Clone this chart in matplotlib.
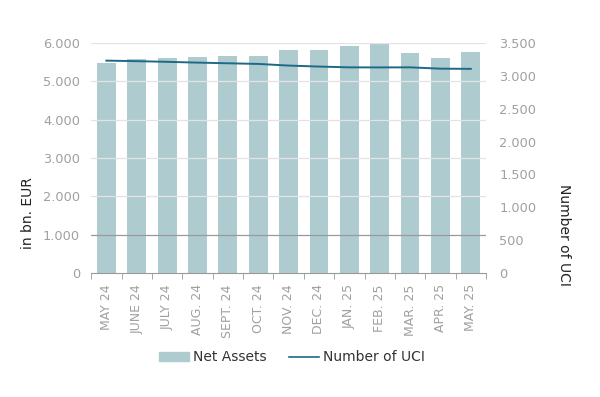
import matplotlib
matplotlib.use("Agg")
import matplotlib.pyplot as plt
from matplotlib.ticker import FuncFormatter
from matplotlib.patches import Patch
from matplotlib.lines import Line2D

months = ["MAY 24", "JUNE 24", "JULY 24", "AUG. 24", "SEPT. 24", "OCT. 24", "NOV. 24",
          "DEC. 24", "JAN. 25", "FEB. 25", "MAR. 25", "APR. 25", "MAY. 25"]
net_assets = [5470, 5570, 5610, 5635, 5645, 5670, 5826, 5818, 5922, 5966, 5740, 5617, 5757]
num_uci = [3230, 3222, 3212, 3200, 3190, 3180, 3155, 3140, 3128, 3127, 3128, 3108, 3105]

bar_color = "#aecbd0"
line_color = "#1d6a86"
tick_color = "#a0a0a0"

fig = plt.figure(figsize=(6, 3.97), dpi=100)
ax = fig.add_axes([0.152, 0.312, 0.658, 0.580])
ax2 = ax.twinx()

n = len(months)
x = list(range(n))
ax.bar(x, net_assets, width=0.62, color=bar_color, zorder=2)
ax.set_ylim(0, 6000)
ax.set_xlim(-0.5, n - 0.5)
ax.set_yticks(range(0, 6001, 1000))

# gridlines on top of bars
for v in range(1000, 6001, 1000):
    c = "#9a9a9a" if v == 1000 else "#e3e3e3"
    ax.axhline(v, color=c, lw=0.9, zorder=3)

fmt = FuncFormatter(lambda v, p: f"{int(v):,}".replace(",", "."))
ax.yaxis.set_major_formatter(fmt)
ax.tick_params(axis="y", length=0, labelcolor=tick_color, labelsize=9.3, pad=8)
ax.set_xticks(x)
ax.set_xticklabels(months, rotation=90, color=tick_color, fontsize=9)
ax.set_xticks([i - 0.5 for i in range(n + 1)], minor=True)
ax.tick_params(axis="x", which="major", length=0, pad=8)
ax.tick_params(axis="x", which="minor", length=4, color="#999999")
for s in ["top", "right", "left"]:
    ax.spines[s].set_visible(False)
ax.spines["bottom"].set_color("#999999")

ax2.plot(x, num_uci, color=line_color, lw=1.4, zorder=4)
ax2.set_ylim(0, 3500)
ax2.set_yticks(range(0, 3501, 500))
ax2.yaxis.set_major_formatter(fmt)
ax2.tick_params(axis="y", length=0, labelcolor=tick_color, labelsize=9.3, pad=9.5)
for s in ["top", "right", "left", "bottom"]:
    ax2.spines[s].set_visible(False)

fig.text(28 / 600, 1 - 213 / 397, "in bn. EUR", rotation=90, ha="center", va="center",
         fontsize=10, color="#222222")
fig.text(564 / 600, 1 - 235 / 397, "Number of UCI", rotation=-90, ha="center", va="center",
         fontsize=10, color="#222222")

handles = [Patch(color=bar_color), Line2D([0], [0], color=line_color, lw=1.2)]
fig.legend(handles, ["Net Assets", "Number of UCI"], loc="center", bbox_to_anchor=(0.486, 0.10),
           ncol=2, frameon=False, fontsize=10, handlelength=2.2, handleheight=0.6,
           columnspacing=1.6, handletextpad=0.25, labelcolor="#333333")

fig.savefig("out.png", dpi=100)
